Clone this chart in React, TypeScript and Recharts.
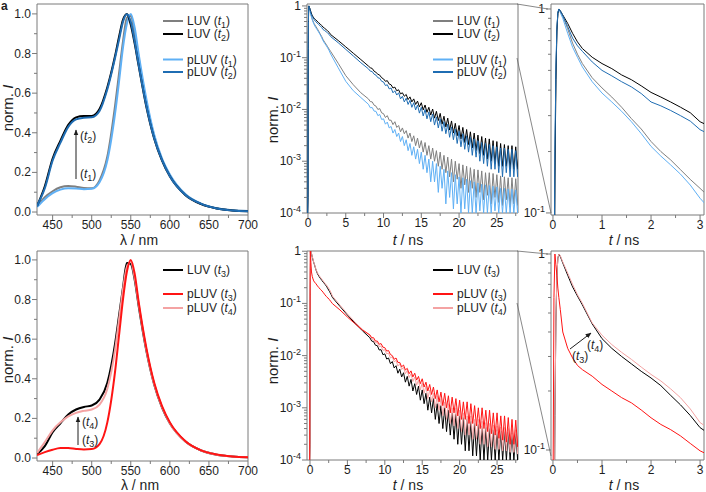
import { LineChart, Line, XAxis, YAxis, ReferenceArea } from "recharts";

const FRAME = "#7a7a7a";
const INK = "#1e1e1e";
const FONT = "'Liberation Sans', Arial, Helvetica, sans-serif";

const GRAY = "#7f7f7f";
const BLACK = "#000000";
const LIGHT_BLUE = "#5fb0f5";
const DARK_BLUE = "#1f6db3";
const RED = "#ff1414";
const PINK = "#f4a3a3";

// steady-state emission, normalised to the maximum
const wavelength = [430, 440, 450, 460, 470, 480, 490, 500, 510, 520, 530, 535, 540, 545, 550, 555, 560, 570, 580, 590, 600, 620, 640, 660, 680, 700];
const specLUV1 = [0.03, 0.075, 0.105, 0.125, 0.132, 0.128, 0.121, 0.12, 0.16, 0.28, 0.54, 0.7, 0.86, 0.98, 0.99, 0.9, 0.78, 0.55, 0.38, 0.265, 0.185, 0.088, 0.041, 0.019, 0.009, 0.005];
const specLUV2 = [0.03, 0.13, 0.27, 0.36, 0.44, 0.478, 0.485, 0.485, 0.52, 0.63, 0.79, 0.885, 0.97, 1.0, 0.945, 0.85, 0.74, 0.53, 0.37, 0.26, 0.18, 0.085, 0.04, 0.018, 0.008, 0.004];
const specPLUV1 = [0.025, 0.065, 0.095, 0.113, 0.12, 0.119, 0.115, 0.117, 0.15, 0.26, 0.5, 0.66, 0.83, 0.95, 1.0, 0.93, 0.8, 0.57, 0.39, 0.27, 0.19, 0.09, 0.042, 0.019, 0.009, 0.005];
const specPLUV2 = [0.03, 0.12, 0.26, 0.35, 0.43, 0.468, 0.476, 0.478, 0.51, 0.62, 0.78, 0.87, 0.96, 0.998, 0.96, 0.86, 0.745, 0.535, 0.372, 0.262, 0.181, 0.086, 0.041, 0.018, 0.008, 0.004];
const specLUV3 = [0.02, 0.06, 0.13, 0.175, 0.22, 0.245, 0.258, 0.265, 0.295, 0.38, 0.58, 0.72, 0.86, 0.985, 0.98, 0.9, 0.77, 0.54, 0.37, 0.255, 0.175, 0.083, 0.038, 0.017, 0.008, 0.004];
const specPLUV3 = [0.015, 0.03, 0.042, 0.05, 0.051, 0.046, 0.043, 0.045, 0.07, 0.18, 0.44, 0.62, 0.8, 0.94, 1.0, 0.93, 0.79, 0.555, 0.38, 0.262, 0.18, 0.085, 0.039, 0.018, 0.008, 0.004];
const specPLUV4 = [0.025, 0.08, 0.14, 0.18, 0.21, 0.228, 0.238, 0.245, 0.27, 0.35, 0.55, 0.7, 0.85, 0.965, 0.99, 0.91, 0.78, 0.545, 0.372, 0.257, 0.176, 0.083, 0.038, 0.017, 0.008, 0.004];

// fluorescence decays (t in ns), normalised counts; the tail is sampled finely to keep the counting noise
const decayTime = [
  -0.04, 0, 0.02, 0.04, 0.06, 0.08, 0.1, 0.12, 0.15, 0.2, 0.3, 0.4, 0.5, 0.6, 0.8, 1, 1.2, 1.4, 1.6, 1.8, 2, 2.2, 2.4, 2.6, 2.8, 3,
  4, 5, 6, 7,
  8, 8.25, 8.5, 8.75, 9, 9.25, 9.5, 9.75, 10, 10.25, 10.5, 10.75, 11, 11.25, 11.5, 11.75, 12, 12.25, 12.5, 12.75,
  13, 13.25, 13.5, 13.75, 14, 14.25, 14.5, 14.75, 15, 15.25, 15.5, 15.75, 16, 16.25, 16.5, 16.75, 17, 17.25, 17.5, 17.75,
  18, 18.25, 18.5, 18.75, 19, 19.25, 19.5, 19.75, 20, 20.25, 20.5, 20.75, 21, 21.25, 21.5, 21.75, 22, 22.25, 22.5, 22.75,
  23, 23.25, 23.5, 23.75, 24, 24.25, 24.5, 24.75, 25, 25.25, 25.5, 25.75, 26, 26.25, 26.5, 26.75, 27, 27.25, 27.5, 27.75, 28,
];
const decayLUV1 = [
  0.0001, 0.0002, 0.02, 0.15, 0.45, 0.78, 0.95, 1.0, 0.97, 0.92, 0.8, 0.68, 0.6, 0.54, 0.46, 0.41, 0.37, 0.33, 0.29, 0.258, 0.224, 0.2, 0.182, 0.163, 0.146, 0.132,
  0.078, 0.045, 0.03, 0.021,
  0.016, 0.0142, 0.014, 0.0121, 0.0116, 0.01, 0.0104, 0.0086, 0.0083, 0.007, 0.0076, 0.0062, 0.0062, 0.0051, 0.0058, 0.0045, 0.0049, 0.0037, 0.0044, 0.0034,
  0.0039, 0.0028, 0.0035, 0.0024, 0.0031, 0.002, 0.0028, 0.0018, 0.0025, 0.0015, 0.0023, 0.0013, 0.002, 0.0011, 0.0018, 0.001, 0.0016, 0.0008, 0.0015, 0.0007,
  0.0013, 0.0006, 0.0012, 0.0005, 0.0011, 0.0004, 0.001, 0.00045, 0.0009, 0.0003, 0.00085, 0.00035, 0.0008, 0.00025, 0.00075, 0.0003, 0.0007, 0.0002, 0.00068, 0.00025,
  0.00065, 0.00018, 0.0006, 0.00022, 0.0006, 0.00015, 0.00058, 0.0002, 0.00055, 0.00016, 0.00052, 0.00014, 0.0005, 0.00018, 0.00048, 0.00013, 0.00048, 0.00015, 0.00046, 0.00014, 0.00045,
];
const decayLUV2 = [
  0.0001, 0.0002, 0.02, 0.15, 0.45, 0.78, 0.95, 1.0, 0.98, 0.935, 0.85, 0.76, 0.69, 0.64, 0.58, 0.54, 0.51, 0.475, 0.45, 0.42, 0.39, 0.37, 0.35, 0.33, 0.31, 0.28,
  0.215, 0.162, 0.122, 0.092,
  0.069, 0.064, 0.062, 0.055, 0.052, 0.048, 0.046, 0.041, 0.039, 0.035, 0.036, 0.031, 0.03, 0.026, 0.027, 0.023, 0.024, 0.02, 0.021, 0.018,
  0.0195, 0.0155, 0.0175, 0.014, 0.016, 0.0125, 0.0145, 0.0112, 0.0135, 0.0098, 0.0122, 0.0088, 0.011, 0.0078, 0.0102, 0.0068, 0.0092, 0.0061, 0.0084, 0.0052,
  0.0074, 0.0046, 0.0068, 0.004, 0.006, 0.0035, 0.0054, 0.0031, 0.0049, 0.0027, 0.0045, 0.0023, 0.0041, 0.0021, 0.0037, 0.0018, 0.0035, 0.0016, 0.0032, 0.0014,
  0.003, 0.0013, 0.0028, 0.0011, 0.0027, 0.001, 0.0025, 0.0009, 0.0024, 0.0008, 0.0022, 0.0008, 0.0021, 0.0008, 0.002, 0.0007, 0.002, 0.0007, 0.0019, 0.0007, 0.0019,
];
const decayPLUV1 = [
  0.0001, 0.0003, 0.03, 0.2, 0.5, 0.8, 0.96, 1.0, 0.96, 0.9, 0.76, 0.65, 0.58, 0.52, 0.44, 0.387, 0.35, 0.315, 0.28, 0.245, 0.212, 0.19, 0.172, 0.155, 0.137, 0.118,
  0.064, 0.035, 0.023, 0.017,
  0.0126, 0.0108, 0.0109, 0.0093, 0.0092, 0.0076, 0.008, 0.0064, 0.0066, 0.0052, 0.0057, 0.0044, 0.0047, 0.0035, 0.0041, 0.003, 0.0035, 0.0024, 0.003, 0.002,
  0.0026, 0.0016, 0.0022, 0.0013, 0.0019, 0.0011, 0.0017, 0.0009, 0.0015, 0.0007, 0.0013, 0.0006, 0.0011, 0.0004, 0.001, 0.0004, 0.0009, 0.00025, 0.0008, 0.0003,
  0.0007, 0.00015, 0.00065, 0.0002, 0.0006, 0.00012, 0.00055, 0.00015, 0.0005, 0.0001, 0.00048, 0.00012, 0.00045, 0.0001, 0.00042, 0.0001, 0.0004, 0.0001, 0.00038, 0.00011,
  0.00036, 0.0001, 0.00035, 0.0001, 0.00034, 0.0001, 0.00033, 0.00011, 0.00032, 0.0001, 0.0003, 0.0001, 0.0003, 0.0001, 0.00029, 0.0001, 0.00029, 0.0001, 0.00028, 0.0001, 0.00027,
];
const decayPLUV2 = [
  0.0001, 0.0003, 0.03, 0.2, 0.5, 0.8, 0.96, 1.0, 0.98, 0.93, 0.82, 0.72, 0.66, 0.62, 0.55, 0.5, 0.47, 0.44, 0.415, 0.385, 0.35, 0.335, 0.318, 0.3, 0.282, 0.256,
  0.195, 0.145, 0.108, 0.08,
  0.061, 0.055, 0.054, 0.048, 0.046, 0.041, 0.04, 0.035, 0.034, 0.029, 0.03, 0.025, 0.026, 0.021, 0.023, 0.019, 0.021, 0.016, 0.018, 0.014,
  0.0165, 0.0125, 0.015, 0.011, 0.0135, 0.0098, 0.0122, 0.0085, 0.011, 0.0075, 0.01, 0.0066, 0.009, 0.0058, 0.0082, 0.005, 0.0072, 0.0044, 0.0066, 0.0038,
  0.0058, 0.0034, 0.0052, 0.0029, 0.0046, 0.0026, 0.0042, 0.0022, 0.0038, 0.0019, 0.0034, 0.0017, 0.0031, 0.0015, 0.0029, 0.0013, 0.0027, 0.0012, 0.0025, 0.001,
  0.0023, 0.0009, 0.0022, 0.0008, 0.0021, 0.0007, 0.002, 0.0007, 0.0019, 0.0006, 0.0018, 0.0005, 0.0018, 0.0006, 0.0017, 0.0005, 0.0017, 0.0005, 0.0016, 0.0005, 0.0016,
];
const decayLUV3 = [
  0.0001, 0.0002, 0.02, 0.15, 0.45, 0.78, 0.95, 1.0, 0.97, 0.9, 0.78, 0.68, 0.61, 0.55, 0.44, 0.37, 0.33, 0.3, 0.275, 0.252, 0.233, 0.213, 0.19, 0.17, 0.15, 0.13,
  0.088, 0.06, 0.042, 0.03,
  0.022, 0.019, 0.0185, 0.0158, 0.0155, 0.0128, 0.013, 0.0104, 0.0108, 0.0086, 0.009, 0.007, 0.0077, 0.0058, 0.0064, 0.0046, 0.0055, 0.0039, 0.0047, 0.0031,
  0.004, 0.0026, 0.0035, 0.0021, 0.0029, 0.0018, 0.0026, 0.0014, 0.0022, 0.0012, 0.0019, 0.0009, 0.0016, 0.0008, 0.0015, 0.0006, 0.0012, 0.0005, 0.0011, 0.0004,
  0.001, 0.00035, 0.0009, 0.0003, 0.0008, 0.00025, 0.00075, 0.0002, 0.0007, 0.0002, 0.00065, 0.00015, 0.0006, 0.00015, 0.00055, 0.00012, 0.0005, 0.00012, 0.00048, 0.0001,
  0.00045, 0.0001, 0.00042, 0.0001, 0.0004, 0.0001, 0.00038, 0.0001, 0.00038, 0.0001, 0.00036, 0.0001, 0.00035, 0.0001, 0.00034, 0.0001, 0.00033, 0.0001, 0.00032, 0.0001, 0.0003,
];
const decayPLUV3 = [
  0.0001, 0.05, 0.6, 1.0, 0.88, 0.78, 0.67, 0.6, 0.52, 0.4, 0.33, 0.295, 0.27, 0.257, 0.238, 0.216, 0.2, 0.185, 0.174, 0.16, 0.146, 0.135, 0.127, 0.118, 0.108, 0.099,
  0.075, 0.055, 0.041, 0.031,
  0.025, 0.022, 0.022, 0.019, 0.019, 0.0165, 0.017, 0.0145, 0.0142, 0.0122, 0.0125, 0.0105, 0.01, 0.0085, 0.009, 0.0074, 0.0074, 0.0061, 0.0066, 0.0053,
  0.0057, 0.0045, 0.0051, 0.0039, 0.0046, 0.0034, 0.004, 0.0029, 0.0036, 0.0025, 0.0031, 0.0021, 0.0028, 0.0018, 0.0025, 0.0015, 0.0022, 0.0013, 0.002, 0.0011,
  0.0019, 0.001, 0.0017, 0.0008, 0.0016, 0.0008, 0.0015, 0.0007, 0.0014, 0.0006, 0.0013, 0.0006, 0.0013, 0.0005, 0.0012, 0.0005, 0.0011, 0.00045, 0.001, 0.0004,
  0.001, 0.0004, 0.0009, 0.00035, 0.0009, 0.00032, 0.0008, 0.0003, 0.0008, 0.00026, 0.0007, 0.00024, 0.0007, 0.00022, 0.00065, 0.0002, 0.0006, 0.0002, 0.00058, 0.00018, 0.00055,
];
const decayPLUV4 = [
  0.0001, 0.0002, 0.02, 0.15, 0.45, 0.78, 0.95, 1.0, 0.98, 0.91, 0.8, 0.7, 0.62, 0.56, 0.445, 0.385, 0.345, 0.315, 0.29, 0.265, 0.243, 0.225, 0.205, 0.185, 0.162, 0.138,
  0.093, 0.063, 0.044, 0.032,
  0.024, 0.021, 0.02, 0.0175, 0.0178, 0.015, 0.0152, 0.0126, 0.013, 0.0108, 0.0112, 0.009, 0.0095, 0.0076, 0.0081, 0.0063, 0.007, 0.0054, 0.006, 0.0045,
  0.0052, 0.0038, 0.0045, 0.0032, 0.0039, 0.0027, 0.0034, 0.0022, 0.003, 0.0019, 0.0026, 0.0015, 0.0022, 0.0013, 0.0019, 0.001, 0.0017, 0.0009, 0.0015, 0.0007,
  0.0013, 0.0006, 0.0012, 0.0005, 0.001, 0.00045, 0.001, 0.0004, 0.0009, 0.00035, 0.0008, 0.0003, 0.0007, 0.0003, 0.0007, 0.00025, 0.0006, 0.00025, 0.0006, 0.0002,
  0.00055, 0.0002, 0.00052, 0.00018, 0.0005, 0.00018, 0.00047, 0.00016, 0.00045, 0.00016, 0.00043, 0.00015, 0.00042, 0.00015, 0.0004, 0.00014, 0.0004, 0.00014, 0.00038, 0.00013, 0.00035,
];

// axis ticks
const wlTicks = [450, 475, 500, 525, 550, 575, 600, 625, 650, 675, 700];
const wlMajor = [450, 500, 550, 600, 650, 700];
const normTicks = [0, 0.1, 0.2, 0.3, 0.4, 0.5, 0.6, 0.7, 0.8, 0.9, 1.0];
const tTicks = [0, 2.5, 5, 7.5, 10, 12.5, 15, 17.5, 20, 22.5, 25, 27.5];
const tMajor = [0, 5, 10, 15, 20, 25];
const tZoomTicks = [0, 0.5, 1, 1.5, 2, 2.5, 3];
const tZoomMajor = [0, 1, 2, 3];
const decades = [0.0001, 0.001, 0.01, 0.1];
const logTicks = [...decades.flatMap((d) => [1, 2, 3, 4, 5, 6, 7, 8, 9].map((k) => k * d)), 1];
const zoomLogTicks = [0.1, 0.2, 0.3, 0.4, 0.5, 0.6, 0.7, 0.8, 0.9, 1];

const specTop = wavelength.map((w, i) => ({ w, luv1: specLUV1[i], luv2: specLUV2[i], pluv1: specPLUV1[i], pluv2: specPLUV2[i] }));
const specBottom = wavelength.map((w, i) => ({ w, luv3: specLUV3[i], pluv3: specPLUV3[i], pluv4: specPLUV4[i] }));
const decayTop = decayTime.map((t, i) => ({ t, luv1: decayLUV1[i], luv2: decayLUV2[i], pluv1: decayPLUV1[i], pluv2: decayPLUV2[i] }));
const decayBottom = decayTime.map((t, i) => ({ t, luv3: decayLUV3[i], pluv3: decayPLUV3[i], pluv4: decayPLUV4[i] }));

const topSeries = [
  { key: "luv1", color: GRAY },
  { key: "pluv1", color: LIGHT_BLUE },
  { key: "luv2", color: BLACK },
  { key: "pluv2", color: DARK_BLUE },
];
const bottomSeries = [
  { key: "luv3", color: BLACK },
  { key: "pluv4", color: PINK },
  { key: "pluv3", color: RED },
];

const isDecade = (v: number) => Math.abs(Math.log10(v) - Math.round(Math.log10(v))) < 1e-6;

type PanelProps = {
  left: number;
  top: number;
  width: number;
  height: number;
  mt: number;
  mr: number;
  yWidth: number;
  xHeight: number;
  data: any[];
  xKey: string;
  xDomain: [number, number];
  xTicks: number[];
  xMajor: number[];
  yDomain: [number, number];
  yTicks: number[];
  log?: boolean;
  innerRight?: boolean;
  smooth?: boolean;
  lineWidth: number;
  series: { key: string; color: string }[];
};

function Panel(p: PanelProps) {
  const xTick = (t: any) => {
    const v = t.payload.value;
    const major = p.xMajor.includes(v);
    return (
      <g>
        <line x1={t.x} x2={t.x} y1={t.y} y2={t.y + (major ? 5 : 3)} stroke={FRAME} />
        {major && (
          <text x={t.x} y={t.y + 14} textAnchor="middle" fontSize={12} fill={INK}>
            {v}
          </text>
        )}
      </g>
    );
  };

  const yTick = (t: any) => {
    const v = t.payload.value;
    const major = p.log ? isDecade(v) : Math.abs(v * 5 - Math.round(v * 5)) < 1e-6;
    let label: any = null;
    if (major && p.log) {
      const e = Math.round(Math.log10(v));
      label =
        e === 0 ? (
          "1"
        ) : (
          <>
            10<tspan dy={-5} fontSize={9}>{`-${-e}`}</tspan>
          </>
        );
    } else if (major) {
      label = v.toFixed(1);
    }
    return (
      <g>
        <line x1={t.x} x2={t.x - (major ? 5 : 3)} y1={t.y} y2={t.y} stroke={FRAME} />
        {label !== null && (
          <text x={t.x - 6} y={t.y + 4} textAnchor="end" fontSize={12} fill={INK}>
            {label}
          </text>
        )}
      </g>
    );
  };

  const innerTick = (t: any) => {
    const major = isDecade(t.payload.value);
    return <line x1={t.x} x2={t.x - (major ? 5 : 3)} y1={t.y} y2={t.y} stroke={FRAME} />;
  };

  return (
    <div style={{ position: "absolute", left: p.left, top: p.top }}>
      <LineChart width={p.width} height={p.height} data={p.data} margin={{ top: p.mt, right: p.mr, bottom: 0, left: 0 }}>
        <XAxis
          type="number"
          dataKey={p.xKey}
          domain={p.xDomain}
          allowDataOverflow
          ticks={p.xTicks}
          interval={0}
          tick={xTick}
          tickLine={false}
          axisLine={false}
          tickSize={0}
          tickMargin={0}
          height={p.xHeight}
        />
        <YAxis
          yAxisId="l"
          type="number"
          scale={p.log ? "log" : "linear"}
          domain={p.yDomain}
          allowDataOverflow
          ticks={p.yTicks}
          interval={0}
          tick={yTick}
          tickLine={false}
          axisLine={false}
          tickSize={0}
          tickMargin={0}
          width={p.yWidth}
        />
        {p.innerRight && (
          <YAxis
            yAxisId="r"
            orientation="right"
            type="number"
            scale="log"
            domain={p.yDomain}
            allowDataOverflow
            ticks={p.yTicks}
            interval={0}
            tick={innerTick}
            tickLine={false}
            axisLine={false}
            tickSize={0}
            tickMargin={0}
            width={0}
          />
        )}
        <ReferenceArea
          yAxisId="l"
          x1={p.xDomain[0]}
          x2={p.xDomain[1]}
          y1={p.yDomain[0]}
          y2={p.yDomain[1]}
          fill="none"
          stroke={FRAME}
          strokeWidth={1}
          ifOverflow="visible"
        />
        {p.series.map((s) => (
          <Line
            key={s.key}
            yAxisId="l"
            dataKey={s.key}
            stroke={s.color}
            strokeWidth={p.lineWidth}
            type={p.smooth ? "monotone" : "linear"}
            dot={false}
            activeDot={false}
            isAnimationActive={false}
          />
        ))}
      </LineChart>
    </div>
  );
}

const Tag = ({ n }: { n: number }) => (
  <>
    (<tspan fontStyle="italic">t</tspan>
    <tspan dy={3} fontSize={9}>
      {n}
    </tspan>
    <tspan dy={-3}>)</tspan>
  </>
);

type LegendEntry = { name: string; n: number; color: string; y: number };

const Legend = ({ x, entries }: { x: number; entries: LegendEntry[] }) => (
  <g>
    {entries.map((e) => (
      <g key={e.name + e.n}>
        <line x1={x} x2={x + 20} y1={e.y} y2={e.y} stroke={e.color} strokeWidth={2} />
        <text x={x + 24} y={e.y + 4} fontSize={12} fill={INK}>
          {e.name} <Tag n={e.n} />
        </text>
      </g>
    ))}
  </g>
);

const legendTop = (y0: number): LegendEntry[] => [
  { name: "LUV", n: 1, color: GRAY, y: y0 },
  { name: "LUV", n: 2, color: BLACK, y: y0 + 13 },
  { name: "pLUV", n: 1, color: LIGHT_BLUE, y: y0 + 38.5 },
  { name: "pLUV", n: 2, color: DARK_BLUE, y: y0 + 51 },
];
const legendBottom = (y0: number): LegendEntry[] => [
  { name: "LUV", n: 3, color: BLACK, y: y0 },
  { name: "pLUV", n: 3, color: RED, y: y0 + 24 },
  { name: "pLUV", n: 4, color: PINK, y: y0 + 38 },
];

const NormTitle = ({ x, y }: { x: number; y: number }) => (
  <text transform={`translate(${x},${y}) rotate(-90)`} textAnchor="middle" dy="0.35em" fontSize={15} fill={INK}>
    norm. <tspan fontStyle="italic">I</tspan>
  </text>
);
const WlTitle = ({ x, y }: { x: number; y: number }) => (
  <text x={x} y={y} dy="0.35em" textAnchor="middle" fontSize={14} fill={INK}>
    λ / nm
  </text>
);
const TimeTitle = ({ x, y }: { x: number; y: number }) => (
  <text x={x} y={y} dy="0.35em" textAnchor="middle" fontSize={14} fill={INK}>
    <tspan fontStyle="italic">t</tspan> / ns
  </text>
);

export default function App() {
  return (
    <div style={{ position: "absolute", left: 0, top: 0, width: 706, height: 492, background: "#fff", fontFamily: FONT, overflow: "hidden" }}>
      <Panel left={0} top={0} width={260} height={250} mt={4} mr={12} yWidth={37} xHeight={35} data={specTop} xKey="w"
        xDomain={[430, 700]} xTicks={wlTicks} xMajor={wlMajor} yDomain={[-0.015, 1.05]} yTicks={normTicks} smooth lineWidth={2} series={topSeries} />
      <Panel left={267} top={0} width={256} height={250} mt={4} mr={5} yWidth={40} xHeight={37} data={decayTop} xKey="t"
        xDomain={[-0.13, 27.8]} xTicks={tTicks} xMajor={tMajor} yDomain={[0.0001, 1.09]} yTicks={logTicks} log innerRight lineWidth={1} series={topSeries} />
      <Panel left={517} top={0} width={189} height={250} mt={4} mr={2} yWidth={34} xHeight={35} data={decayTop} xKey="t"
        xDomain={[-0.04, 3.08]} xTicks={tZoomTicks} xMajor={tZoomMajor} yDomain={[0.0977, 1.058]} yTicks={zoomLogTicks} log lineWidth={1} series={topSeries} />

      <Panel left={0} top={243} width={260} height={253} mt={8} mr={12} yWidth={37} xHeight={35} data={specBottom} xKey="w"
        xDomain={[430, 700]} xTicks={wlTicks} xMajor={wlMajor} yDomain={[-0.015, 1.045]} yTicks={normTicks} smooth lineWidth={2} series={bottomSeries} />
      <Panel left={267} top={243} width={256} height={254} mt={8} mr={5} yWidth={40} xHeight={37} data={decayBottom} xKey="t"
        xDomain={[-0.4, 27.8]} xTicks={tTicks} xMajor={tMajor} yDomain={[0.0001, 1.01]} yTicks={logTicks} log innerRight lineWidth={1} series={bottomSeries} />
      <Panel left={517} top={243} width={189} height={252} mt={8} mr={2} yWidth={34} xHeight={35} data={decayBottom} xKey="t"
        xDomain={[-0.04, 3.08]} xTicks={tZoomTicks} xMajor={tZoomMajor} yDomain={[0.0889, 1.036]} yTicks={zoomLogTicks} log lineWidth={1} series={bottomSeries} />

      <svg width={706} height={492} style={{ position: "absolute", left: 0, top: 0, pointerEvents: "none" }} fontFamily={FONT}>
        <defs>
          <marker id="head" viewBox="0 0 10 10" refX="9" refY="5" markerWidth="6" markerHeight="6" orient="auto">
            <path d="M0,1 L10,5 L0,9 z" fill={INK} />
          </marker>
        </defs>

        <text x={1} y={10} fontSize={12} fontWeight="bold" fill={INK}>a</text>

        {/* zoom guides from the full decay to the early-time panel */}
        <g stroke="#6a6a6a" strokeWidth={0.8}>
          <line x1={517} y1={4} x2={548} y2={9} />
          <line x1={517} y1={58} x2={551} y2={213} />
          <line x1={517} y1={251} x2={548} y2={254} />
          <line x1={517} y1={303} x2={551} y2={456} />
        </g>

        <NormTitle x={8} y={108} />
        <NormTitle x={273} y={120} />
        <NormTitle x={8} y={360} />
        <NormTitle x={273} y={361} />
        <WlTitle x={139} y={240} />
        <TimeTitle x={408} y={240} />
        <TimeTitle x={624} y={240} />
        <WlTitle x={140} y={485} />
        <TimeTitle x={408} y={485} />
        <TimeTitle x={624} y={485} />

        <Legend x={163} entries={legendTop(21)} />
        <Legend x={433} entries={legendTop(21)} />
        <Legend x={163} entries={legendBottom(270)} />
        <Legend x={433} entries={legendBottom(270)} />

        {/* growth of the shoulder between the two time points */}
        <line x1={76} y1={179} x2={76} y2={130} stroke={INK} strokeWidth={1} markerEnd="url(#head)" />
        <text x={80} y={140} fontSize={12} fill={INK}><Tag n={2} /></text>
        <text x={80} y={178} fontSize={12} fill={INK}><Tag n={1} /></text>

        <line x1={78} y1={445} x2={78} y2={417} stroke={INK} strokeWidth={1} markerEnd="url(#head)" />
        <text x={82} y={426} fontSize={12} fill={INK}><Tag n={4} /></text>
        <text x={82} y={444} fontSize={12} fill={INK}><Tag n={3} /></text>

        <line x1={570} y1={349} x2={591} y2={333} stroke={INK} strokeWidth={1} markerEnd="url(#head)" />
        <text x={587} y={349} fontSize={12} fill={INK}><Tag n={4} /></text>
        <text x={572} y={360} fontSize={12} fill={INK}><Tag n={3} /></text>
      </svg>
    </div>
  );
}
